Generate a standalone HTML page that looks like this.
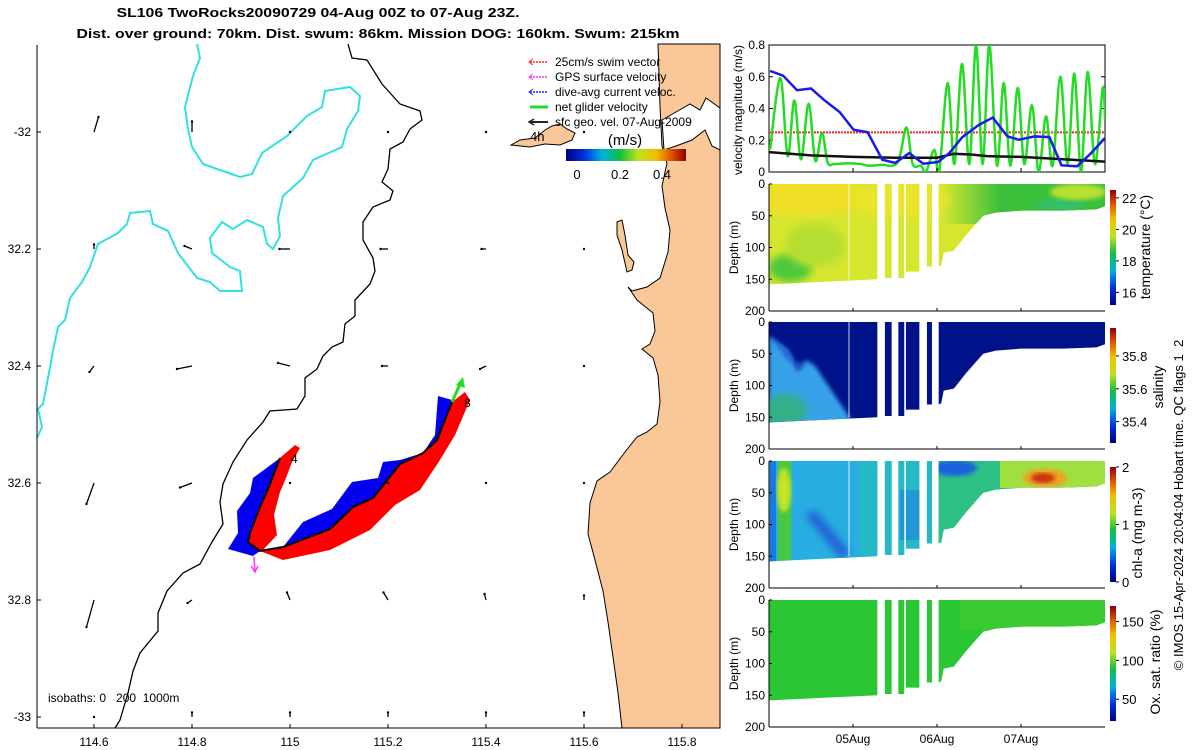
<!DOCTYPE html>
<html><head><meta charset="utf-8">
<style>
html,body{margin:0;padding:0;background:#fff;}
svg{display:block;font-family:"Liberation Sans","DejaVu Sans",sans-serif;}
</style></head>
<body>
<svg id="root" width="1200" height="750" viewBox="0 0 1200 750">
<defs>
  <linearGradient id="jetH" x1="0" y1="0" x2="1" y2="0">
    <stop offset="0" stop-color="#000080"/><stop offset="0.15" stop-color="#0030e0"/>
    <stop offset="0.3" stop-color="#00b0e0"/><stop offset="0.45" stop-color="#10c040"/>
    <stop offset="0.6" stop-color="#c0e020"/><stop offset="0.75" stop-color="#f0c000"/>
    <stop offset="0.88" stop-color="#e05000"/><stop offset="1" stop-color="#900000"/>
  </linearGradient>
  <linearGradient id="jetV" x1="0" y1="1" x2="0" y2="0">
    <stop offset="0" stop-color="#000080"/><stop offset="0.15" stop-color="#0030e0"/>
    <stop offset="0.3" stop-color="#00b0e0"/><stop offset="0.45" stop-color="#10c040"/>
    <stop offset="0.6" stop-color="#c0e020"/><stop offset="0.75" stop-color="#f0c000"/>
    <stop offset="0.88" stop-color="#e05000"/><stop offset="1" stop-color="#900000"/>
  </linearGradient>
  <linearGradient id="tempRight" x1="940" y1="0" x2="1000" y2="0" gradientUnits="userSpaceOnUse">
    <stop offset="0" stop-color="#d8e830"/><stop offset="1" stop-color="#3cc03c"/>
  </linearGradient>
  <filter id="blur4"><feGaussianBlur stdDeviation="4"/></filter>
  <filter id="blur2"><feGaussianBlur stdDeviation="2"/></filter>
  <clipPath id="clipP0"><path id="cp0"/></clipPath>
  <clipPath id="clipP1"><path id="cp1"/></clipPath>
  <clipPath id="clipP2"><path id="cp2"/></clipPath>
  <clipPath id="clipP3"><path id="cp3"/></clipPath>
  <clipPath id="velClip"><rect x="769" y="45" width="336" height="127"/></clipPath>
</defs>

<text x="318" y="17" text-anchor="middle" font-size="13" font-weight="bold" textLength="403" lengthAdjust="spacingAndGlyphs">SL106 TwoRocks20090729 04-Aug 00Z to 07-Aug 23Z.</text>
<text x="378" y="38" text-anchor="middle" font-size="13" font-weight="bold" textLength="603" lengthAdjust="spacingAndGlyphs">Dist. over ground: 70km. Dist. swum: 86km. Mission DOG: 160km. Swum: 215km</text>

<g>
  <polygon fill="#fac898" stroke="#000" stroke-width="1"
    points="658,44 660,106 662,146 667,163 662,186 665,208 670,230 668,252 660,278 647,287 632,291 628,287 637,300 653,313 655,331 650,344 642,349 653,358 658,375 660,402 657,424 647,432 637,437 625,452 610,472 597,481 590,503 588,534 595,560 603,591 608,622 613,657 618,693 622,728 720,728 720,44"/>
  <polygon fill="#fff" stroke="#000" stroke-width="1"
    points="662,120 676,112 690,104 700,110 706,98 720,108 720,150 712,146 705,130 692,140 676,146 664,150"/>
  <polygon fill="#fac898" stroke="#000" stroke-width="1"
    points="511,145 520,140 535,138 545,130 552,126 560,124 567,129 575,133 572,140 560,145 545,144 530,147"/>
  <polygon fill="#fac898" stroke="#000" stroke-width="1"
    points="617,222 622,220 625,235 628,255 634,262 632,270 627,272 622,250 617,235"/>
  <polyline fill="none" stroke="#33e0e0" stroke-width="2"
    points="197,44 200,58 193,76 185,107 188,129 192,147 203,164 217,169 240,177 252,174 262,153 287,136 307,116 322,107 325,91 350,87 360,96 358,111 347,129 342,147 313,160 303,178 283,196 278,218 280,236 273,249 267,244 263,227 247,220 233,229 222,222 210,238 212,253 230,267 240,271 242,291 220,291 210,282 197,278 178,253 168,231 153,224 150,211 130,213 127,224 118,233 98,244 90,267 82,282 70,298 65,320 58,327 53,351 48,378 43,404 38,409 42,427 37,438"/>
  <polyline fill="none" stroke="#000" stroke-width="1.3"
    points="348,44 352,58 367,60 382,84 400,104 420,111 422,120 410,129 403,142 390,149 388,169 382,182 393,191 390,200 373,207 363,222 363,240 373,258 375,271 370,284 355,300 355,316 345,324 343,342 332,347 323,356 317,369 305,378 305,396 297,409 270,411 263,422 247,440 233,462 223,484 220,502 223,524 212,542 200,564 183,573 167,591 158,613 158,631 140,653 133,671 128,693 120,720 115,728"/>

  <g>
    <polygon fill="#0000ee" points="280,458 253,478 250,493 237,511 238,533 228,549 253,556 260,551 248,542 250,533 260,507 268,489"/>
    <polygon fill="#0000ee" points="283,547 303,522 332,509 352,482 378,478 383,462 400,460 423,453 435,435 438,396 452,400 452,402 437,440 423,453 400,464 373,498 353,507 330,529"/>
    <polygon fill="#ff0000" points="280,458 295,445 300,448 292,462 286,478 280,492 274,515 277,535 262,551 248,542 260,507 268,489"/>
    <polygon fill="#ff0000" points="260,551 283,560 330,550 370,530 395,505 420,490 440,460 455,435 470,400 465,392 452,402 437,440 423,453 400,464 373,498 353,507 330,529 283,547"/>
    <polyline fill="none" stroke="#000" stroke-width="2" points="280,458 268,489 260,507 250,533 248,542 260,551 283,547 330,529 353,507 373,498 400,464 423,453 437,440 452,402"/>
    <line x1="452" y1="402" x2="461" y2="382" stroke="#22dd22" stroke-width="3"/>
    <polygon fill="#22dd22" points="463,377 456,385 465,388"/>
    <line x1="254" y1="557" x2="255" y2="572" stroke="#ff33ff" stroke-width="1.5"/>
    <polyline fill="none" stroke="#ff33ff" stroke-width="1.5" points="251,566 255,572 258,566"/>
    <text x="291" y="463" font-size="12">4</text>
    <text x="464" y="407" font-size="12">8</text>
  </g>

  <g id="geoArrows"></g>

  <g font-size="12">
    <line x1="530" y1="62" x2="548" y2="62" stroke="#ff2020" stroke-width="1.5" stroke-dasharray="2,1"/>
    <polyline points="533,59 529,62 533,65" fill="none" stroke="#ff2020"/>
    <text x="555" y="66">25cm/s swim vector</text>
    <line x1="530" y1="77" x2="548" y2="77" stroke="#ff33ff" stroke-width="1.5" stroke-dasharray="2,1"/>
    <polyline points="533,74 529,77 533,80" fill="none" stroke="#ff33ff"/>
    <text x="555" y="81">GPS surface velocity</text>
    <line x1="530" y1="92" x2="548" y2="92" stroke="#2020ff" stroke-width="1.5" stroke-dasharray="2,1"/>
    <polyline points="533,89 529,92 533,95" fill="none" stroke="#2020ff"/>
    <text x="555" y="96">dive-avg current veloc.</text>
    <line x1="530" y1="107" x2="548" y2="107" stroke="#22dd22" stroke-width="3"/>
    <text x="555" y="111">net glider velocity</text>
    <line x1="530" y1="122" x2="548" y2="122" stroke="#222" stroke-width="2"/>
    <polyline points="534,119 529,122 534,125" fill="none" stroke="#222" stroke-width="1.5"/>
    <text x="555" y="126">sfc geo. vel. 07-Aug-2009</text>
    <text x="530" y="141" font-size="13">4h</text>
  </g>
  <g>
    <text x="625" y="145" font-size="15" text-anchor="middle">(m/s)</text>
    <rect x="566" y="149" width="120" height="12" fill="url(#jetH)"/>
    <text x="577" y="179" font-size="13" text-anchor="middle">0</text>
    <text x="620" y="179" font-size="13" text-anchor="middle">0.2</text>
    <text x="662" y="179" font-size="13" text-anchor="middle">0.4</text>
  </g>
  <text x="48" y="702" font-size="12" style="white-space:pre">isobaths: 0   200  1000m</text>

  <line x1="37" y1="45" x2="37" y2="728" stroke="#000"/>
  <line x1="37" y1="728" x2="720" y2="728" stroke="#000"/>
  <g id="mapTicks" font-size="12"></g>
</g>

<g id="velPanel">
  <rect x="769" y="45" width="336" height="127" fill="#fff" stroke="#000"/>
  <text transform="translate(742,110) rotate(-90)" text-anchor="middle" font-size="12">velocity magnitude (m/s)</text>
</g>
<g id="heatPanels"></g>

<text transform="translate(1183,505) rotate(-90)" text-anchor="middle" font-size="13" style="white-space:pre">© IMOS 15-Apr-2024 20:04:04 Hobart time. QC flags 1  2</text>
</svg>

<script>
// ---------- velocity chart data ----------
const velTicks = [0, 0.2, 0.4, 0.6, 0.8];
const swimSpeed = 0.25;
const greenT = [0.012,0.135,0.222,0.302,0.381,0.472,0.551,0.631,0.698,0.777,0.937,1.095,1.175,1.333,1.531,1.635,1.71,1.81,1.869,1.968,2.027,2.126,2.207,2.298,2.385,2.465,2.543,2.623,2.714,2.794,2.873,2.961,3.039,3.13,3.21,3.297,3.377,3.468,3.555,3.635,3.715,3.793,3.881,3.973,4.0];
const greenV = [0.14,0.59,0.10,0.45,0.08,0.43,0.07,0.245,0.06,0.05,0.055,0.05,0.04,0.045,0.06,0.28,0.05,0.04,0.0,0.14,0.0,0.56,0.05,0.68,0.05,0.8,0.05,0.8,0.04,0.56,0.04,0.53,0.05,0.42,0.0,0.35,0.04,0.6,0.05,0.62,0.0,0.63,0.05,0.53,0.33];
const blueT = [0.013,0.168,0.334,0.5,0.655,0.842,1.007,1.173,1.349,1.504,1.67,1.836,2.012,2.146,2.302,2.499,2.664,2.84,2.975,3.162,3.338,3.482,3.669,3.835,4.0];
const blueV = [0.637,0.607,0.515,0.526,0.454,0.377,0.266,0.251,0.077,0.057,0.119,0.052,0.063,0.119,0.22,0.297,0.343,0.224,0.203,0.224,0.22,0.042,0.036,0.119,0.214];
const blackT = [0.0,0.5,1.0,1.5,2.0,2.2,2.4,2.6,3.0,3.5,4.0];
const blackV = [0.125,0.105,0.095,0.09,0.09,0.115,0.11,0.10,0.095,0.08,0.065];
const dayTicks = [1, 2, 3];
const dayLabels = ["05Aug", "06Aug", "07Aug"];

// ---------- section data ----------
const mainBlock = [0, 1.29, 158, 150];
const profileCols = [[1.38,1.46,148],[1.54,1.61,148],[1.63,1.79,138],[1.88,1.94,130]];
const shelfT = [2.02,2.05,2.08,2.2,2.35,2.55,2.7,3.0,3.5,3.9,4.0];
const shelfD = [130,128,108,105,80,50,45,42,42,40,35];
const depthTicks = [0,50,100,150,200];
const panelTitles = ["temperature (°C)","salinity","chl-a (mg m-3)","Ox. sat. ratio (%)"];
const cbTicks = [[22,20,18,16],[35.8,35.6,35.4],[2,1,0],[150,100,50]];
const cbRange = [[15.2,22.5],[35.27,35.97],[0,2],[22,170]];

// ---------- map data ----------
const lonTicks = [114.6,114.8,115,115.2,115.4,115.6,115.8];
const latTicks = [-32,-32.2,-32.4,-32.6,-32.8,-33];
const latLabels = ["-32","32.2","32.4","32.6","32.8","-33"];
const geoLon = [114.6,114.8,115,115.2,115.4,115.6];
const geoU = [
 [0.03,0,0,0,0,0],[0,-0.05,-0.07,-0.05,-0.03,0],[-0.03,-0.1,-0.08,-0.04,-0.04,0],
 [-0.05,-0.08,0,0,0,0],[-0.05,-0.03,-0.02,-0.03,-0.01,0],[0,0,0,0,0,0]];
const geoV = [
 [0.1,0.07,0,0,0,0],[0.03,0.02,0,0,0,0],[-0.04,-0.02,0.02,0,-0.02,0],
 [-0.14,-0.03,0,0,0,0],[-0.18,-0.02,0.05,0.05,0.04,0.03],[0,0.03,0.03,0.03,0.03,0.03]];

const NS='http://www.w3.org/2000/svg';
function mk(tag, attrs, parent){const e=document.createElementNS(NS,tag);for(const k in attrs)e.setAttribute(k,attrs[k]);parent.appendChild(e);return e;}

const vx = t => 769 + t*84;
const vy = v => 172 - v*158.75;
const vp = document.getElementById('velPanel');
velTicks.forEach(v=>{
  const t=mk('text',{x:765,y:vy(v)+4,'text-anchor':'end','font-size':12},vp);
  t.textContent = v===0?'0':v.toFixed(1);
  
  
  mk('line',{x1:769,y1:vy(v),x2:773,y2:vy(v),stroke:'#000'},vp);
  mk('line',{x1:1105,y1:vy(v),x2:1101,y2:vy(v),stroke:'#000'},vp);
});
function smoothPath(T,V){
  const P=T.map((t,i)=>[vx(t),vy(V[i])]);
  let d='M'+P[0][0]+','+P[0][1];
  for(let i=0;i<P.length-1;i++){
    const p0=P[Math.max(0,i-1)],p1=P[i],p2=P[i+1],p3=P[Math.min(P.length-1,i+2)];
    const c1=[p1[0]+(p2[0]-p0[0])/6,p1[1]+(p2[1]-p0[1])/6];
    const c2=[p2[0]-(p3[0]-p1[0])/6,p2[1]-(p3[1]-p1[1])/6];
    d+=' C'+c1[0]+','+c1[1]+' '+c2[0]+','+c2[1]+' '+p2[0]+','+p2[1];
  }
  return d;
}
const redLine=mk('line',{x1:vx(0),x2:vx(4),y1:vy(swimSpeed),y2:vy(swimSpeed),stroke:'#ff2020','stroke-width':2,'stroke-dasharray':'2,1'},vp);


const gl=mk('path',{d:smoothPath(greenT,greenV),fill:'none',stroke:'#22dd22','stroke-width':2.5,'clip-path':'url(#velClip)'},vp);


const bk=mk('polyline',{points:blackT.map((t,i)=>vx(t)+','+vy(blackV[i])).join(' '),fill:'none',stroke:'#111','stroke-width':2.5},vp);


const bl=mk('polyline',{points:blueT.map((t,i)=>vx(t)+','+vy(blueV[i])).join(' '),fill:'none',stroke:'#1a1aee','stroke-width':2.5},vp);


dayTicks.forEach(d=>mk('line',{x1:vx(d),x2:vx(d),y1:172,y2:168,stroke:'#000'},vp));

const hp=document.getElementById('heatPanels');
const panelTop=[184,322,461,600];
function shapeD(y0){
  const dy=d=>y0+d*0.635;
  let s='M'+vx(mainBlock[0])+','+dy(0)+' L'+vx(mainBlock[1])+','+dy(0)+' L'+vx(mainBlock[1])+','+dy(mainBlock[3])+' L'+vx(mainBlock[0])+','+dy(mainBlock[2])+' Z ';
  profileCols.forEach(c=>{s+='M'+vx(c[0])+','+dy(0)+' L'+vx(c[1])+','+dy(0)+' L'+vx(c[1])+','+dy(c[2])+' L'+vx(c[0])+','+dy(c[2])+' Z ';});
  s+='M'+vx(shelfT[0])+','+dy(0)+' L'+vx(4)+','+dy(0)+' ';
  for(let i=shelfT.length-1;i>=0;i--) s+='L'+vx(shelfT[i])+','+dy(shelfD[i])+' ';
  return s+'Z';
}
const overlays=[
 [['rect',{x:769,y:184,width:336,height:110,fill:'#d6e62e'}],
  ['rect',{x:930,y:184,width:175,height:40,fill:'url(#tempRight)'}],
  ['ellipse',{cx:805,cy:196,rx:55,ry:20,fill:'#f0de26',filter:'url(#blur4)'}],
  ['ellipse',{cx:900,cy:200,rx:50,ry:18,fill:'#eae42a',filter:'url(#blur4)'}],
  ['ellipse',{cx:790,cy:268,rx:22,ry:14,fill:'#4ec83a',filter:'url(#blur4)'}],
  ['ellipse',{cx:815,cy:245,rx:30,ry:22,fill:'#b6de30',filter:'url(#blur4)'}],
  ['ellipse',{cx:1060,cy:205,rx:25,ry:6,fill:'#30c068',filter:'url(#blur2)'}],
  ['ellipse',{cx:1078,cy:192,rx:28,ry:8,fill:'#b8e030',filter:'url(#blur2)'}]],
 [['rect',{x:769,y:322,width:336,height:110,fill:'#00128a'}],
  ['polygon',{points:'769,336 788,350 798,370 806,360 815,366 850,418 850,428 769,428',fill:'#38a2e8',filter:'url(#blur2)'}],
  ['polygon',{points:'769,336 788,352 798,372 806,362 812,364 790,362',fill:'#2058d8',filter:'url(#blur2)'}],
  ['ellipse',{cx:785,cy:410,rx:22,ry:16,fill:'#30b088',filter:'url(#blur4)'}]],
 [['rect',{x:769,y:461,width:336,height:110,fill:'#28aee0'}],
  ['rect',{x:770,y:461,width:6,height:105,fill:'#1a78e0'}],
  ['rect',{x:778,y:461,width:13,height:105,fill:'#48c840'}],
  ['ellipse',{cx:784,cy:490,rx:7,ry:22,fill:'#c8e428',filter:'url(#blur2)'}],
  ['polygon',{points:'805,515 815,510 850,552 842,560',fill:'#2062d8',filter:'url(#blur4)'}],
  ['rect',{x:860,y:461,width:80,height:95,fill:'#22beb8',opacity:0.7}],
  ['rect',{x:900,y:490,width:25,height:50,fill:'#2080e0',opacity:0.6}],
  ['rect',{x:937,y:461,width:168,height:90,fill:'#2cc084'}],
  ['ellipse',{cx:955,cy:468,rx:22,ry:8,fill:'#1e60dc',filter:'url(#blur2)'}],
  ['rect',{x:1000,y:461,width:105,height:27,fill:'#a0e040'}],
  ['ellipse',{cx:1045,cy:478,rx:22,ry:9,fill:'#f0a020',filter:'url(#blur2)'}],
  ['ellipse',{cx:1043,cy:478,rx:12,ry:5,fill:'#c83010',filter:'url(#blur2)'}]],
 [['rect',{x:769,y:600,width:336,height:110,fill:'#2ac634'}],
  ['rect',{x:960,y:600,width:145,height:30,fill:'#48cc30',opacity:0.6}]]
];
for(let k=0;k<4;k++){
  const y0=panelTop[k];
  const dy=d=>y0+d*0.635;
  const g=mk('g',{},hp);
  
  
  document.getElementById('cp'+k).setAttribute('d',shapeD(y0));
  const cg=mk('g',{'clip-path':'url(#clipP'+k+')'},g);
  overlays[k].forEach(o=>mk(o[0],o[1],cg));
  if(k<3) mk('line',{x1:849,x2:849,y1:y0,y2:dy(150),stroke:'#fff','stroke-width':1,opacity:0.8},cg);
  mk('line',{x1:769,y1:y0,x2:769,y2:dy(200),stroke:'#000'},g);
  mk('line',{x1:769,y1:dy(200),x2:1105,y2:dy(200),stroke:'#000'},g);
  depthTicks.forEach(d=>{
    const t=mk('text',{x:765,y:dy(d)+4,'text-anchor':'end','font-size':12},g);
    t.textContent=d;
    mk('line',{x1:769,y1:dy(d),x2:772,y2:dy(d),stroke:'#000'},g);
  });
  const yt=mk('text',{transform:'translate(738,'+dy(100)+') rotate(-90)','text-anchor':'middle','font-size':12},g);
  yt.textContent='Depth (m)';
  
  
  const cbTop=y0+6, cbBot=y0+121;
  const cb=mk('rect',{x:1110,y:cbTop,width:6,height:cbBot-cbTop,fill:'url(#jetV)'},g);
  
  
  const r=cbRange[k];
  cbTicks[k].forEach(v=>{
    const yy=cbBot-(v-r[0])/(r[1]-r[0])*(cbBot-cbTop);
    mk('line',{x1:1116,x2:1119,y1:yy,y2:yy,stroke:'#000'},g);
    const t=mk('text',{x:1122,y:yy+5,'font-size':13},g);
    t.textContent=v;
  });
  const titleX=[1150,1163,1142,1160][k];
  const titleY=[247,387,533,662][k];
  const ct=mk('text',{transform:'translate('+titleX+','+titleY+') rotate(-90)','text-anchor':'middle','font-size':14},g);
  ct.textContent=panelTitles[k];
  
  
  dayTicks.forEach(d=>mk('line',{x1:vx(d),x2:vx(d),y1:dy(200),y2:dy(200)-3,stroke:'#000'},g));
  if(k===3){
    dayTicks.forEach((d,i)=>{
      const t=mk('text',{x:vx(d),y:dy(200)+16,'text-anchor':'middle','font-size':12},g);
      t.textContent=dayLabels[i];
      
      
    });
  }
}

const mx = lon => 94 + (lon-114.6)*490;
const my = lat => 132 + (-lat-32)*585;
const mt=document.getElementById('mapTicks');
lonTicks.forEach(l=>{
  mk('line',{x1:mx(l),x2:mx(l),y1:728,y2:724,stroke:'#000'},mt);
  const t=mk('text',{x:mx(l),y:746,'text-anchor':'middle'},mt);
  t.textContent=(Math.round(l*10)/10).toString();
  
  
});
latTicks.forEach((l,i)=>{
  mk('line',{x1:37,x2:41,y1:my(l),y2:my(l),stroke:'#000'},mt);
  const t=mk('text',{x:31,y:my(l)+4,'text-anchor':'end'},mt);
  t.textContent=latLabels[i];
  
  
});
const ga=document.getElementById('geoArrows');
latTicks.forEach((lat,r)=>{
  geoLon.forEach((lon,c)=>{
    const x0=mx(lon), y0=my(lat);
    const u=geoU[r][c], v=geoV[r][c];
    const x1=x0+u*150, y1=y0-v*150;
    const a=mk('g',{},ga);
    
    
    mk('line',{x1:x0,y1:y0,x2:x1,y2:y1,stroke:'#000','stroke-width':1.3},a);
    mk('circle',{cx:x1,cy:y1,r:1.2,fill:'#000'},a);
  });
});
</script>
</body></html>
